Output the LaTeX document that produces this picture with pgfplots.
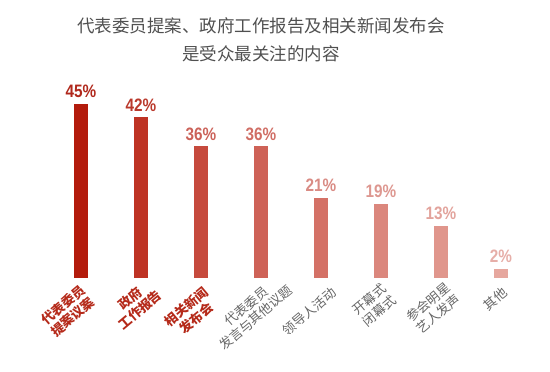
\documentclass[border=0pt]{standalone}
\usepackage{pgfplots}
\pgfplotsset{compat=1.18}
\usepackage{fontspec}
\setmainfont{Liberation Sans}
\newfontfamily\cjk{Noto Sans CJK SC}
\definecolor{b1}{HTML}{B31B0C}
\definecolor{b2}{HTML}{BE3324}
\definecolor{b3}{HTML}{C64A3D}
\definecolor{b4}{HTML}{CE6257}
\definecolor{b5}{HTML}{D47166}
\definecolor{b6}{HTML}{DB877D}
\definecolor{b7}{HTML}{E0968C}
\definecolor{b8}{HTML}{E6A79E}
\definecolor{v1}{HTML}{B0281C}
\definecolor{v2}{HTML}{BA392C}
\definecolor{v3}{HTML}{CB6259}
\definecolor{v4}{HTML}{D06E65}
\definecolor{v5}{HTML}{D98B84}
\definecolor{v6}{HTML}{DD9790}
\definecolor{v7}{HTML}{E2A39C}
\definecolor{v8}{HTML}{E6AEA8}
\definecolor{catred}{HTML}{B52A1A}
\definecolor{catgray}{HTML}{666666}
\definecolor{titlegray}{HTML}{505050}
\newcommand\rb[1]{\textcolor{catred}{\bfseries #1}}
\def\labxs{{-13,-6,-9.5,-10,-11.5,-6.5,-7.5,-6}}
\def\labys{{-33,-26,-34.5,-34,-33.5,-27,-30,-21}}
\begin{document}
\begin{tikzpicture}
\useasboundingbox (0,0) rectangle (550pt,372pt);
\node[align=center, text=titlegray, font=\cjk\fontsize{17.5}{28}\selectfont] at (261pt,332pt)
  {代表委员提案、政府工作报告及相关新闻发布会\\是受众最关注的内容};
\begin{axis}[
  at={(0pt,94pt)}, anchor=south west,
  scale only axis, width=550pt, height=193.5pt,
  xmin=-1.35, xmax=7.8167, ymin=0, ymax=50,
  ybar, bar width=14pt, bar shift=0pt,
  axis line style={draw=none},
  major tick length=0pt,
  ytick=\empty,
  xtick={0,1,2,3,4,5,6,7},
  xticklabels={
    {\rb{代表委员}\\\rb{提案议案}},
    {\rb{政府}\\\rb{工作报告}},
    {\rb{相关新闻}\\\rb{发布会}},
    {代表委员\\发言与其他议题},
    {领导人活动},
    {开幕式\\闭幕式},
    {参会明星\\艺人发声},
    {其他}},
  x tick label style={xshift={\labxs[\ticknum]}, yshift={\labys[\ticknum]}, rotate=40, anchor=center, align=center,
    inner sep=0pt, text=catgray, font=\cjk\fontsize{13}{15}\selectfont},
  point meta=explicit,
  nodes near coords={\scalebox{0.85}[1]{\pgfmathprintnumber[assume math mode=true]{\pgfplotspointmeta}\%}},
  every node near coord/.append style={anchor=south, inner sep=0pt, yshift=6pt,
    font=\bfseries\fontsize{18}{18}\selectfont},
  clip=false,
]
\addplot[fill=b1, draw=none, every node near coord/.append style={text=v1}] coordinates {(0,45) [45]};
\addplot[fill=b2, draw=none, every node near coord/.append style={text=v2}] coordinates {(1,41.5) [42]};
\addplot[fill=b3, draw=none, every node near coord/.append style={text=v3}] coordinates {(2,34) [36]};
\addplot[fill=b4, draw=none, every node near coord/.append style={text=v4}] coordinates {(3,34) [36]};
\addplot[fill=b5, draw=none, every node near coord/.append style={text=v5}] coordinates {(4,20.7) [21]};
\addplot[fill=b6, draw=none, every node near coord/.append style={text=v6}] coordinates {(5,19.1) [19]};
\addplot[fill=b7, draw=none, every node near coord/.append style={text=v7}] coordinates {(6,13.5) [13]};
\addplot[fill=b8, draw=none, every node near coord/.append style={text=v8}] coordinates {(7,2.3) [2]};
\end{axis}
\end{tikzpicture}
\end{document}
